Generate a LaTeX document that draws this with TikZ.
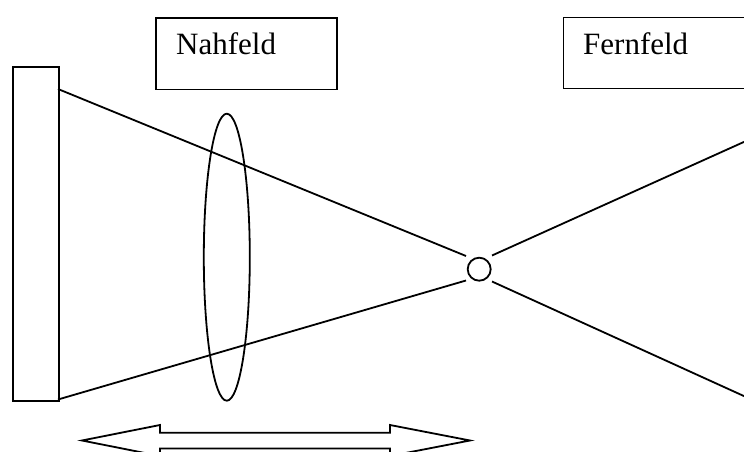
\documentclass[tikz,border=0pt]{standalone}
\usepackage{fontspec}
\setmainfont{Liberation Serif}
\begin{document}
\begin{tikzpicture}[x=1pt,y=-1pt,
  ln/.style={line width=1.8pt, black},
  boxstyle/.style={draw, line width=1.8pt, anchor=north west, inner sep=0pt},
  lbl/.style={anchor=base west, inner sep=0pt, font=\fontsize{31}{36}\selectfont}]
\useasboundingbox (0,0) rectangle (744,452);
% source rectangle
\node[boxstyle, minimum width=46pt, minimum height=334pt] (src) at (12,66) {};
% lens ellipse
\draw[ln] (226.8,257.2) ellipse [x radius=23, y radius=143.5];
% focus circle
\node[draw, circle, line width=1.8pt, minimum size=23pt, inner sep=0pt] (foc) at (479.2,269.2) {};
% connector end points
\coordinate (s1) at (58,89);
\coordinate (s2) at (58,399.5);
\coordinate (c1) at (466,256);
\coordinate (c2) at (466,280.5);
\coordinate (c3) at (492,255.5);
\coordinate (c4) at (492,281.5);
\coordinate (e1) at (746,141);
\coordinate (e2) at (746,397);
\draw[ln] (s1) -- (c1);
\draw[ln] (s2) -- (c2);
\draw[ln] (c3) -- (e1);
\draw[ln] (c4) -- (e2);
% text boxes
\node[boxstyle, minimum width=181pt, minimum height=71pt] (nah) at (155,17.5) {};
\node[lbl] (nahtxt) at (176,55) {Nahfeld};
\draw[ln] (750,17.5) -- (563.5,17.5) -- (563.5,88.5) -- (750,88.5);
\node[lbl] (ferntxt) at (583,55) {Fernfeld};
% double arrow
\draw[ln, line join=miter] (82,440.5) -- (160,425) -- (160,432.7) -- (390,432.7) -- (390,425)
  -- (470,440.5) -- (390,456) -- (390,448.5) -- (160,448.5) -- (160,456) -- cycle;
\end{tikzpicture}
\end{document}
